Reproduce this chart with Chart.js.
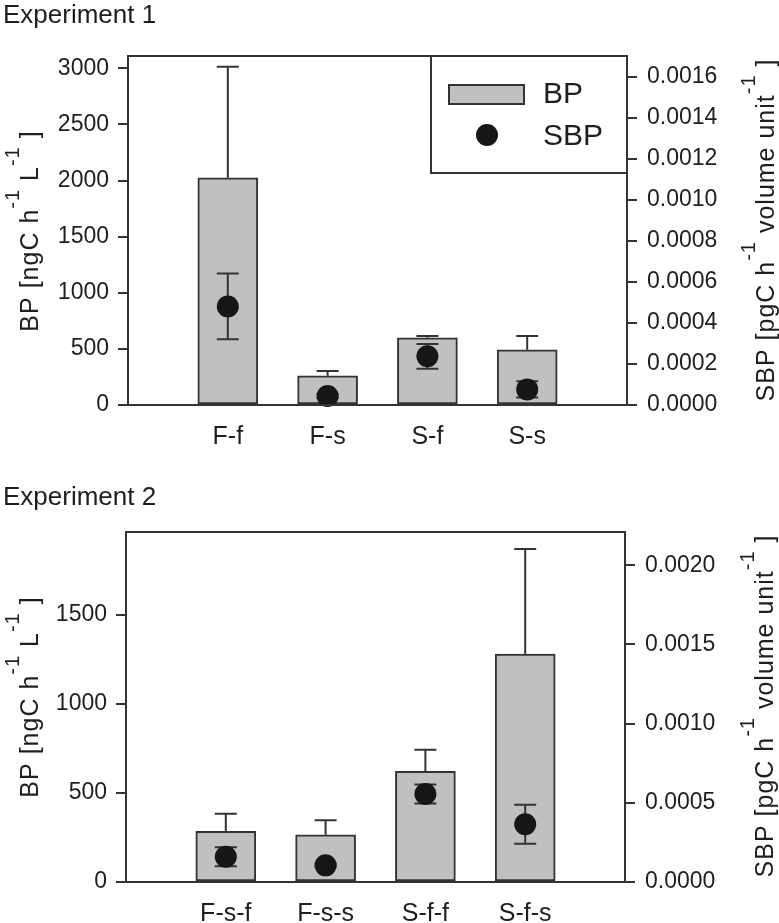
<!DOCTYPE html>
<html><head><meta charset="utf-8">
<script src="https://cdn.jsdelivr.net/npm/chart.js@4.4.1/dist/chart.umd.min.js"></script>
<style>
html,body{margin:0;padding:0;background:#fff;}
#wrap{position:relative;width:779px;height:923px;overflow:hidden;}
.c{position:absolute;left:0;}
</style>
</head><body>
<div id="wrap">
  <div class="c" style="top:0;width:779px;height:470px"><canvas id="c1" width="779" height="470"></canvas></div>
  <div class="c" style="top:470px;width:779px;height:453px"><canvas id="c2" width="779" height="453"></canvas></div>
</div>
<script>
// ---------- Experiment 1 data ----------
const categories1 = ['F-f', 'F-s', 'S-f', 'S-s'];
const bp1 = [2025, 261, 599, 492];
const bpErr1 = [990, 42, 15, 122];
const sbp1 = [0.00048, 0.000044, 0.000237, 0.000076];
const sbpErr1 = [0.00016, 0.00001, 0.00006, 0.00004];
const bpMax1 = 3110;
const sbpMax1 = 0.0017;
const bpTicks1 = [0, 500, 1000, 1500, 2000, 2500, 3000];
const sbpTicks1 = [0, 0.0002, 0.0004, 0.0006, 0.0008, 0.0010, 0.0012, 0.0014, 0.0016];

// ---------- Experiment 2 data ----------
const categories2 = ['F-s-f', 'F-s-s', 'S-f-f', 'S-f-s'];
const bp2 = [284, 265, 621, 1279];
const bpErr2 = [99, 81, 121, 590];
const sbp2 = [0.00016, 0.000105, 0.000556, 0.000365];
const sbpErr2 = [0.00006, 0.00001, 0.00006, 0.000123];
const bpMax2 = 1965;
const sbpMax2 = 0.00221;
const bpTicks2 = [0, 500, 1000, 1500];
const sbpTicks2 = [0, 0.0005, 0.0010, 0.0015, 0.0020];

const seriesNames = ['BP', 'SBP'];
const leftTitleParts = [{t:'BP [ngC h'}, {t:'-1', sup:true}, {t:' L'}, {t:'-1', sup:true}, {t:' ]'}];
const rightTitleParts = [{t:'SBP [pgC h'}, {t:'-1', sup:true}, {t:' volume unit'}, {t:'-1', sup:true}, {t:' ]'}];

const FONT = '"Liberation Sans", Arial, Helvetica, sans-serif';
const INK = '#1e1e1e';
const LINE = '#333333';
const BARFILL = '#c0c0c0';
const DOT = '#161616';

function pad(a) { return [null, ...a, null]; }

function drawErr(chart, meta, ds) {
  const ctx = chart.ctx;
  const ys = chart.scales[meta.yAxisID];
  ctx.save();
  ctx.strokeStyle = LINE;
  ctx.lineWidth = 2;
  ds.data.forEach((v, i) => {
    if (v == null || ds.errors[i] == null) return;
    const e = ds.errors[i];
    const x = meta.data[i].x;
    const yTop = ys.getPixelForValue(v + e);
    const yBot = ds.errMode === 'up' ? ys.getPixelForValue(v) : ys.getPixelForValue(v - e);
    ctx.beginPath();
    ctx.moveTo(x, yBot); ctx.lineTo(x, yTop);
    ctx.moveTo(x - 11, yTop); ctx.lineTo(x + 11, yTop);
    if (ds.errMode === 'both') { ctx.moveTo(x - 11, yBot); ctx.lineTo(x + 11, yBot); }
    ctx.stroke();
  });
  ctx.restore();
}

function drawRotated(ctx, parts, baseX, cy) {
  ctx.save();
  const mainFont = '25px ' + FONT, supFont = '20px ' + FONT;
  try { ctx.letterSpacing = '1px'; } catch (e) {}
  let total = 0;
  const widths = parts.map(p => { ctx.font = p.sup ? supFont : mainFont; const w = ctx.measureText(p.t).width; total += w; return w; });
  ctx.translate(baseX, cy);
  ctx.rotate(-Math.PI / 2);
  ctx.fillStyle = INK;
  ctx.textBaseline = 'alphabetic';
  ctx.textAlign = 'left';
  let x = -total / 2;
  parts.forEach((p, i) => {
    ctx.font = p.sup ? supFont : mainFont;
    ctx.fillText(p.t, x, p.sup ? -19 : 0);
    x += widths[i];
  });
  ctx.restore();
}

const decorPlugin = {
  id: 'decor',
  beforeDatasetDraw(chart, args) {
    const ds = chart.data.datasets[args.index];
    if (ds.errMode === 'both') drawErr(chart, args.meta, ds);
  },
  afterDatasetDraw(chart, args) {
    const ds = chart.data.datasets[args.index];
    if (ds.errMode === 'up') drawErr(chart, args.meta, ds);
  },
  afterDraw(chart, args, o) {
    const ctx = chart.ctx, a = chart.chartArea;
    ctx.save();
    ctx.strokeStyle = LINE; ctx.lineWidth = 2;
    ctx.strokeRect(a.left, a.top, a.right - a.left, a.bottom - a.top);
    ctx.fillStyle = INK; ctx.font = '26px ' + FONT; ctx.textBaseline = 'alphabetic'; ctx.textAlign = 'left';
    ctx.fillText(o.title, 3, o.titleBaseline);
    ctx.restore();
    drawRotated(ctx, leftTitleParts, o.leftX, o.leftCy);
    drawRotated(ctx, rightTitleParts, o.rightX, o.rightCy);
    if (o.legend) {
      ctx.save();
      const lx = a.right - 196, ly = a.top, lw = 196, lh = 117;
      ctx.fillStyle = '#fff';
      ctx.fillRect(lx, ly, lw, lh);
      ctx.strokeStyle = LINE; ctx.lineWidth = 2;
      ctx.strokeRect(lx, ly, lw, lh);
      ctx.fillStyle = BARFILL;
      ctx.fillRect(lx + 18, ly + 29, 75, 19);
      ctx.strokeRect(lx + 18, ly + 29, 75, 19);
      ctx.fillStyle = DOT;
      ctx.beginPath(); ctx.arc(lx + 56, ly + 79, 11, 0, Math.PI * 2); ctx.fill();
      ctx.fillStyle = INK; ctx.font = '30px ' + FONT; ctx.textBaseline = 'middle'; ctx.textAlign = 'left';
      ctx.fillText(seriesNames[0], lx + 112, ly + 39);
      ctx.fillText(seriesNames[1], lx + 112, ly + 81);
      ctx.restore();
    }
  }
};

function makeChart(id, cats, bp, bpErr, sbp, sbpErr, bpMax, sbpMax, bpTicks, sbpTicks, geo, deco) {
  const tickFont = { family: FONT, size: 23 };
  return new Chart(document.getElementById(id), {
    data: {
      labels: ['', ...cats, ''],
      datasets: [
        { type: 'bar', label: seriesNames[0], data: pad(bp), errors: pad(bpErr), errMode: 'up', yAxisID: 'y',
          backgroundColor: BARFILL, borderColor: LINE, borderWidth: 2, borderSkipped: false,
          barThickness: 60, order: 2 },
        { type: 'line', label: seriesNames[1], data: pad(sbp), errors: pad(sbpErr), errMode: 'both', yAxisID: 'y1',
          showLine: false, pointRadius: 11, pointHoverRadius: 11, pointBackgroundColor: DOT, pointBorderWidth: 0,
          pointBorderColor: DOT, clip: false, order: 1 }
      ]
    },
    options: {
      responsive: false, animation: false, events: [],
      layout: { padding: { top: geo.top, left: 0, right: 0, bottom: 0 } },
      plugins: { legend: { display: false }, tooltip: { enabled: false }, decor: deco },
      scales: {
        x: { type: 'category', offset: false,
             grid: { display: false, drawTicks: false },
             border: { display: true, color: LINE, width: 2 },
             ticks: { font: { family: FONT, size: 25 }, color: INK, padding: geo.xPad, autoSkip: false, maxRotation: 0 },
             afterFit: s => { s.height = geo.xH; } },
        y: { position: 'left', min: 0, max: bpMax,
             ticks: { font: tickFont, color: INK, padding: 9, callback: v => String(v) },
             afterBuildTicks: s => { s.ticks = bpTicks.map(v => ({ value: v })); },
             grid: { drawOnChartArea: false, drawTicks: true, tickLength: 10, color: LINE, lineWidth: 2 },
             border: { display: true, color: LINE, width: 2 },
             afterFit: s => { s.width = geo.left; } },
        y1: { position: 'right', min: 0, max: sbpMax,
             ticks: { font: tickFont, color: INK, padding: 10, callback: v => Number(v).toFixed(4) },
             afterBuildTicks: s => { s.ticks = sbpTicks.map(v => ({ value: v })); },
             grid: { drawOnChartArea: false, drawTicks: true, tickLength: 10, color: LINE, lineWidth: 2 },
             border: { display: true, color: LINE, width: 2 },
             afterFit: s => { s.width = geo.right; } }
      }
    },
    plugins: [decorPlugin]
  });
}

makeChart('c1', categories1, bp1, bpErr1, sbp1, sbpErr1, bpMax1, sbpMax1, bpTicks1, sbpTicks1,
  { top: 56, left: 128, right: 152, xH: 65, xPad: 17 },
  { title: 'Experiment 1', titleBaseline: 23, leftX: 38, leftCy: 231, rightX: 774, rightCy: 230, legend: true });

makeChart('c2', categories2, bp2, bpErr2, sbp2, sbpErr2, bpMax2, sbpMax2, bpTicks2, sbpTicks2,
  { top: 62, left: 126, right: 154, xH: 41, xPad: 17 },
  { title: 'Experiment 2', titleBaseline: 35, leftX: 38, leftCy: 227, rightX: 773, rightCy: 236, legend: false });
</script>
</body></html>
